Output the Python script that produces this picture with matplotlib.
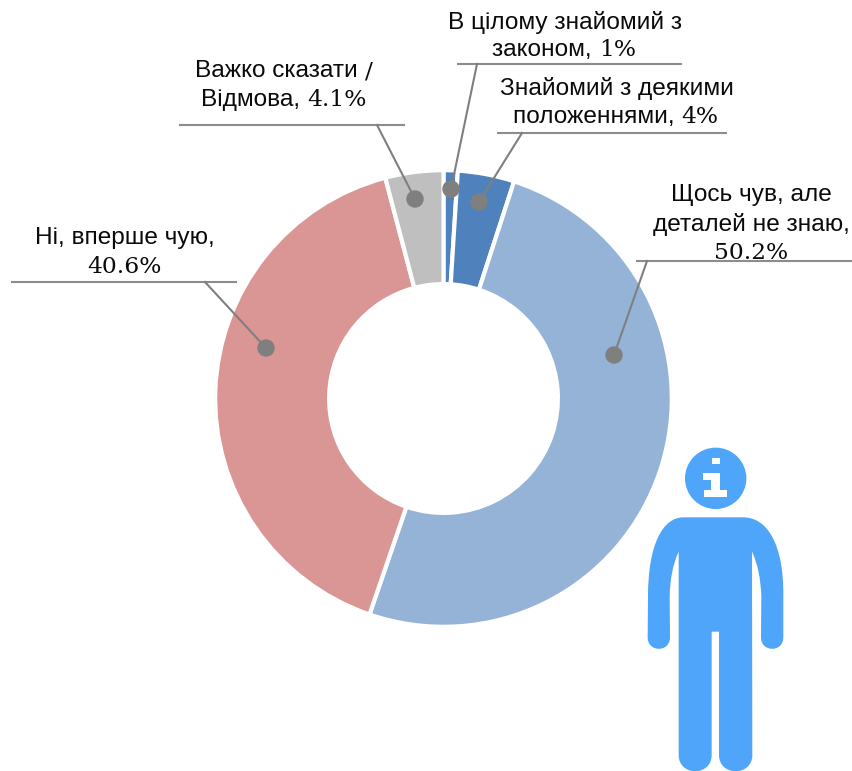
import re
import matplotlib
matplotlib.use("Agg")
import matplotlib.pyplot as plt
from matplotlib.path import Path
from matplotlib.patches import PathPatch, Circle, Rectangle

W, H = 852, 771

# slices, clockwise from the top
categories = ["В цілому знайомий з законом", "Знайомий з деякими положеннями",
              "Щось чув, але деталей не знаю", "Ні, вперше чую", "Важко сказати / Відмова"]
values = [1, 4, 50.2, 40.6, 4.1]
colors = ["#4F81BD", "#4F81BD", "#95B3D7", "#D99694", "#BFBFBF"]

# label lines
label_lines = [
    ["В цілому знайомий з", "законом, 1%"],
    ["Знайомий з деякими", "положеннями, 4%"],
    ["Щось чув, але", "деталей не знаю,", "50.2%"],
    ["Ні, вперше чую,", "40.6%"],
    ["Важко сказати /", "Відмова, 4.1%"],
]
# layout in pixels: text centre x, first line y, line step
label_pos = [(565, 23, 27), (617, 88, 29), (751, 195, 29), (124.5, 238, 29), (285, 71, 29)]
# underline x0, x1, y
rules = [(457, 682, 64), (497, 727, 133), (636, 852, 261), (11, 237, 282), (179, 405, 125)]
# leader start on the rule and dot position
leaders = [(477, 64, 451, 189), (522, 133, 479, 202), (647, 261, 614, 355),
           (205, 282, 266, 348), (377, 125, 415, 199)]

fig = plt.figure(figsize=(W / 100, H / 100), dpi=100)
ax = fig.add_axes([0, 0, 1, 1])


def Y(y):
    return H - y


ax.pie(values, colors=colors, startangle=90, counterclock=False,
       center=(443.5, Y(398.5)), radius=228.3,
       wedgeprops=dict(width=113.9, edgecolor="white", linewidth=3))
ax.set_xlim(0, W)
ax.set_ylim(0, H)
ax.set_aspect("equal")
ax.axis("off")

# rules and leaders
for x0, x1, y in rules:
    ax.plot([x0, x1], [Y(y), Y(y)], color="#8C8C8C", lw=1.5, solid_capstyle="butt")
for x0, y0, x1, y1 in leaders:
    ax.plot([x0, x1], [Y(y0), Y(y1)], color="#7F7F7F", lw=1.5)
    ax.add_patch(Circle((x1, Y(y1)), 8, color="#7F7F7F", zorder=5))

# the words are sans, the numbers and signs come out in a serif
renderer = fig.canvas.get_renderer()


def draw_line(s, cx, y):
    parts = [p for p in re.split(r"([0-9.]+%|/)", s) if p]
    items = []
    total = 0
    for p in parts:
        serif = re.fullmatch(r"[0-9.]+%|/", p) is not None
        t = ax.text(0, Y(y), p.replace(" ", "\u00a0"), va="center", ha="left", color="#0A0A0A",
                    family="DejaVu Serif" if serif else "Liberation Sans",
                    fontsize=16.8 if serif else 17.6)
        w = t.get_window_extent(renderer).width
        if serif and len(parts) > 1:
            w += 2
        items.append((t, w))
        total += w
    x = cx - total / 2
    for t, w in items:
        t.set_x(x)
        x += w


for lines, (cx, y0, step) in zip(label_lines, label_pos):
    for i, s in enumerate(lines):
        draw_line(s, cx, y0 + i * step)

# person icon
BLUE = "#4EA5F9"


def P(zx, zy):
    return (620 + zx / 3, Y(430 + zy / 3))


body = [
    (Path.MOVETO, (190, 262)), (Path.LINETO, (370, 262)),
    (Path.CURVE4, (440, 262)), (Path.CURVE4, (492, 340)), (Path.CURVE4, (490, 500)),
    (Path.LINETO, (490, 622)),
    (Path.CURVE4, (490, 668)), (Path.CURVE4, (423, 668)), (Path.CURVE4, (423, 622)),
    (Path.LINETO, (424, 500)),
    (Path.CURVE3, (422, 420)), (Path.CURVE3, (396, 365)),
    (Path.LINETO, (397, 975)),
    (Path.CURVE4, (397, 1040)), (Path.CURVE4, (297, 1040)), (Path.CURVE4, (297, 975)),
    (Path.LINETO, (297, 605)), (Path.LINETO, (275, 605)), (Path.LINETO, (275, 975)),
    (Path.CURVE4, (275, 1040)), (Path.CURVE4, (176, 1040)), (Path.CURVE4, (176, 975)),
    (Path.LINETO, (176, 365)),
    (Path.CURVE3, (150, 420)), (Path.CURVE3, (149, 500)),
    (Path.LINETO, (150, 622)),
    (Path.CURVE4, (150, 668)), (Path.CURVE4, (83, 668)), (Path.CURVE4, (83, 622)),
    (Path.LINETO, (84, 500)),
    (Path.CURVE4, (84, 340)), (Path.CURVE4, (130, 262)), (Path.CURVE4, (190, 262)),
    (Path.CLOSEPOLY, (190, 262)),
]
codes = [c for c, _ in body]
verts = [P(*v) for _, v in body]
ax.add_patch(PathPatch(Path(verts, codes), facecolor=BLUE, edgecolor="none", zorder=6))
ax.add_patch(Circle(P(287, 145), 30.7, color=BLUE, lw=0, zorder=6))
for x0, y0, x1, y1 in [(275, 85, 300, 103), (250, 130, 300, 150), (272, 130, 300, 200), (252, 180, 320, 200)]:
    (a, b), (c, d) = P(x0, y1), P(x1, y0)
    ax.add_patch(Rectangle((a, b), c - a, d - b, color="white", lw=0, zorder=7))

fig.savefig("out.png", dpi=100)
